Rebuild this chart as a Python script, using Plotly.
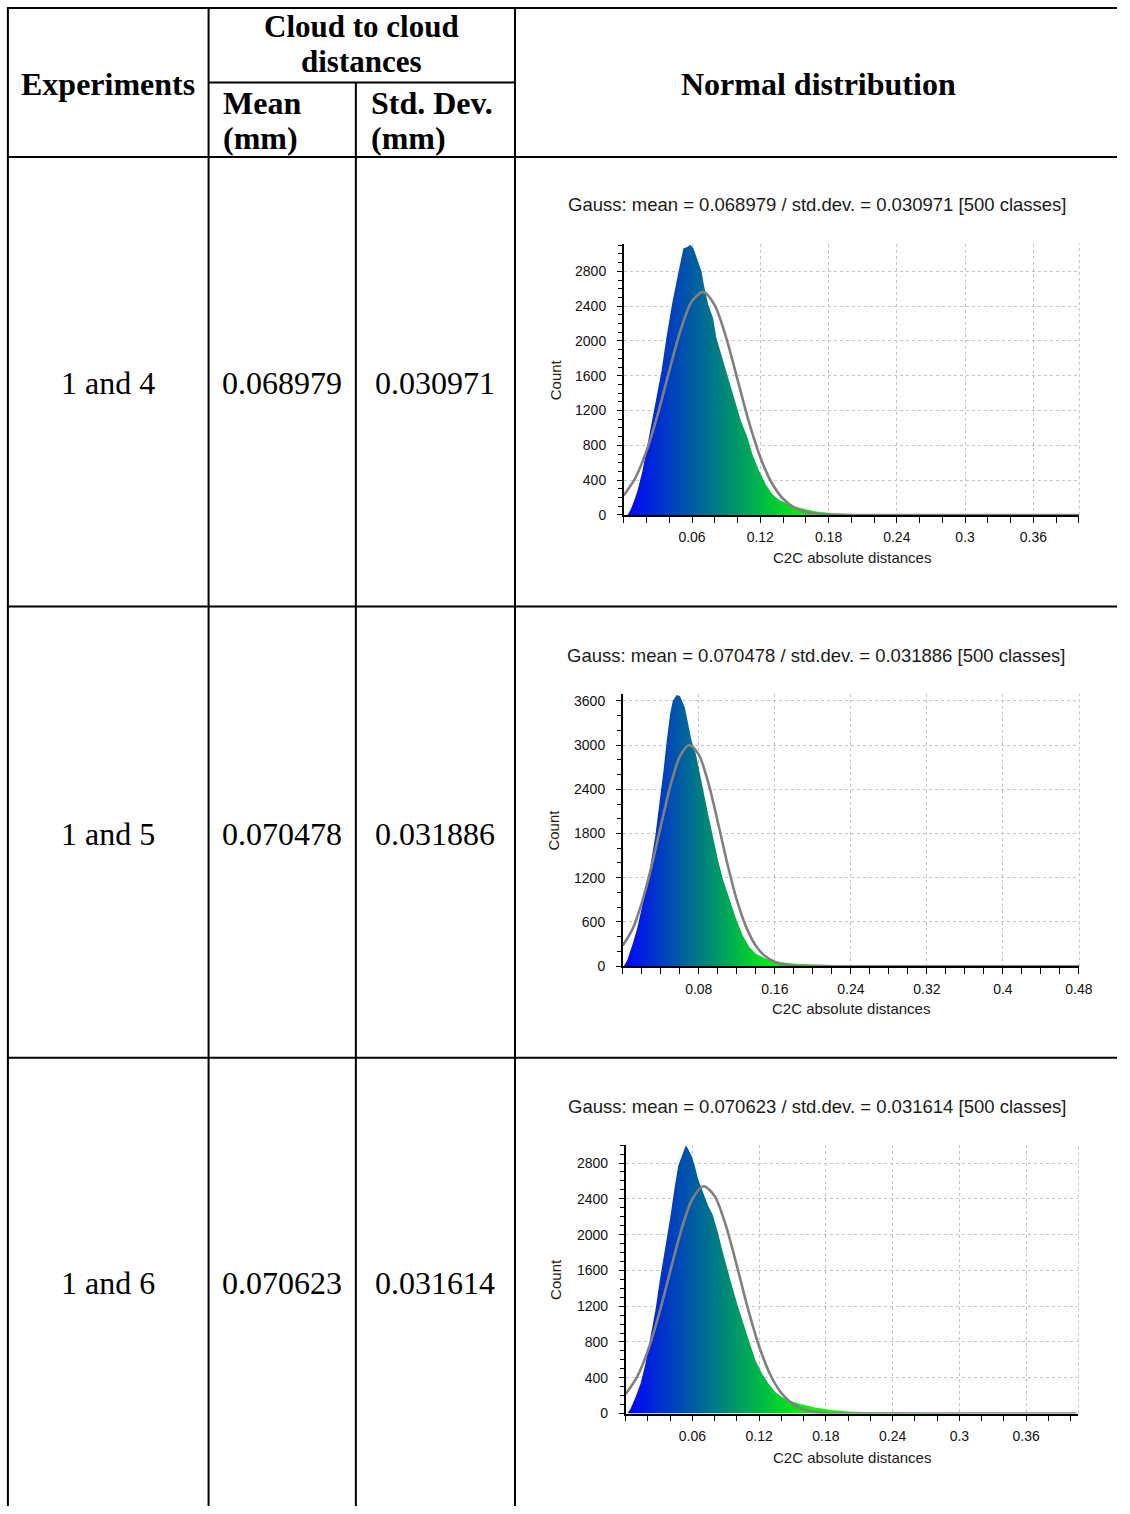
import plotly.graph_objects as go

# ---------------- data ----------------
experiments = ["1 and 4", "1 and 5", "1 and 6"]
means = ["0.068979", "0.070478", "0.070623"]
stds = ["0.030971", "0.031886", "0.031614"]
titles = [
    "Gauss: mean = 0.068979 / std.dev. = 0.030971 [500 classes]",
    "Gauss: mean = 0.070478 / std.dev. = 0.031886 [500 classes]",
    "Gauss: mean = 0.070623 / std.dev. = 0.031614 [500 classes]",
]

# histogram outlines (bin position, count)
hist1_x = [0.0035, 0.0063, 0.0092, 0.0121, 0.0165, 0.0222, 0.0280, 0.0332, 0.0375, 0.0424,
           0.0482, 0.0525, 0.0560, 0.0583, 0.0612, 0.0641, 0.0684, 0.0704, 0.0742, 0.0785,
           0.0814, 0.0857, 0.0900, 0.0944, 0.0987, 0.1030, 0.1088, 0.1131, 0.1189, 0.1247,
           0.1304, 0.1362, 0.1405, 0.1449, 0.155, 0.169, 0.184, 0.198, 0.227, 0.26, 0.30,
           0.35, 0.40]
hist1_count = [0, 68, 164, 278, 507, 889, 1271, 1654, 2036, 2418,
               2800, 3067, 3080, 3105, 3067, 2953, 2800, 2647, 2418, 2265,
               2036, 1845, 1654, 1463, 1271, 1080, 889, 698, 507, 354,
               240, 175, 150, 120, 80, 40, 20, 11, 6, 3, 2,
               1, 0]

hist2_x = [0.001, 0.0047, 0.0099, 0.0151, 0.0220, 0.0290, 0.0342, 0.0387, 0.0429, 0.0463,
           0.0498, 0.0526, 0.0567, 0.0602, 0.0654, 0.0689, 0.0724, 0.0769, 0.0810, 0.0852,
           0.0897, 0.0949, 0.1001, 0.1054, 0.1123, 0.1193, 0.1262, 0.1332, 0.1401, 0.1505,
           0.161, 0.175, 0.192, 0.203, 0.22, 0.25, 0.30, 0.35, 0.40, 0.48]
hist2_count = [0, 81, 282, 506, 909, 1357, 1760, 2208, 2656, 3059,
               3417, 3596, 3680, 3664, 3506, 3283, 3059, 2880, 2611, 2342,
               2073, 1760, 1446, 1178, 909, 640, 416, 260, 170, 103,
               67, 40, 27, 22, 14, 8, 4, 2, 1, 0]

hist3_x = [0.0015, 0.0044, 0.0089, 0.0133, 0.0177, 0.0222, 0.0266, 0.0310, 0.0355, 0.0399,
           0.0443, 0.0473, 0.0517, 0.0540, 0.0561, 0.0591, 0.0620, 0.0650, 0.0694, 0.0739,
           0.0783, 0.0827, 0.0871, 0.0916, 0.0960, 0.1004, 0.1049, 0.1108, 0.1167, 0.1226,
           0.1285, 0.1344, 0.1403, 0.1462, 0.1551, 0.1640, 0.1699, 0.185, 0.20, 0.22,
           0.25, 0.30, 0.35, 0.405]
hist3_count = [0, 55, 185, 333, 555, 850, 1146, 1516, 1848, 2181,
               2551, 2773, 2921, 2995, 2957, 2884, 2773, 2625, 2477, 2329,
               2218, 2033, 1811, 1590, 1405, 1220, 1035, 813, 592, 444,
               333, 240, 185, 148, 111, 81, 67, 40, 22, 12,
               6, 3, 1, 0]

# fitted gaussian curves
gauss1_x = [0.0, 0.01, 0.02, 0.03, 0.04, 0.05, 0.06, 0.07, 0.08, 0.09, 0.10, 0.11, 0.12,
            0.13, 0.14, 0.15, 0.16, 0.17, 0.18, 0.19, 0.20, 0.25, 0.30, 0.35, 0.40]
gauss1_count = [225, 419, 736, 1163, 1656, 2126, 2459, 2564, 2408, 2039, 1556, 1069, 663,
                370, 186, 84, 35, 13, 4, 1, 0, 0, 0, 0, 0]
gauss2_x = [0.0, 0.01, 0.02, 0.03, 0.04, 0.05, 0.06, 0.07, 0.08, 0.09, 0.10, 0.11, 0.12,
            0.13, 0.14, 0.15, 0.16, 0.17, 0.18, 0.19, 0.20, 0.25, 0.30, 0.40, 0.48]
gauss2_count = [280, 496, 857, 1340, 1900, 2440, 2842, 3000, 2870, 2489, 1956, 1394, 900,
                527, 279, 134, 58, 23, 8, 3, 1, 0, 0, 0, 0]
gauss3_x = [0.0, 0.01, 0.02, 0.03, 0.04, 0.05, 0.06, 0.07, 0.08, 0.09, 0.10, 0.11, 0.12,
            0.13, 0.14, 0.15, 0.16, 0.17, 0.18, 0.19, 0.20, 0.25, 0.30, 0.35, 0.405]
gauss3_count = [220, 404, 705, 1113, 1590, 2054, 2401, 2540, 2430, 2104, 1648, 1167, 749,
                434, 228, 108, 46, 18, 6, 2, 0, 0, 0, 0, 0]

xticks_a = [0.06, 0.12, 0.18, 0.24, 0.30, 0.36]
xticktext_a = ["0.06", "0.12", "0.18", "0.24", "0.3", "0.36"]
xticks_b = [0.08, 0.16, 0.24, 0.32, 0.40, 0.48]
xticktext_b = ["0.08", "0.16", "0.24", "0.32", "0.4", "0.48"]

# ---------------- layout helpers ----------------
W, H = 1130, 1514


def px(x):
    return x / W


def py(y):
    return 1 - y / H


SERIF = "Liberation Serif"
SANS = "Liberation Sans"

charts = [
    dict(hx=hist1_x, hy=hist1_count, gx=gauss1_x, gy=gauss1_count, xt=xticks_a, xtt=xticktext_a,
         box=(631, 1092, 244, 517), xr=0.4005, yr=3120, ydt=400, ymin=100),
    dict(hx=hist2_x, hy=hist2_count, gx=gauss2_x, gy=gauss2_count, xt=xticks_b, xtt=xticktext_b,
         box=(630, 1092, 697, 971), xr=0.4805, yr=3694, ydt=600, ymin=200),
    dict(hx=hist3_x, hy=hist3_count, gx=gauss3_x, gy=gauss3_count, xt=xticks_a, xtt=xticktext_a,
         box=(633, 1091, 1151, 1421), xr=0.407, yr=3000, ydt=400, ymin=100),
]
title_pos = [(827, 205), (826, 658), (826.5, 1112)]
xtitle_pos = [(861.5, 560), (861, 1014), (862, 1465)]
count_pos = [(562, 381), (559, 834), (562, 1286)]
row_y = [384, 838, 1290]

fig = go.Figure()
layout = dict(
    width=W, height=H, margin=dict(l=0, r=0, t=0, b=0),
    paper_bgcolor="white", plot_bgcolor="white", showlegend=False,
)
annotations = []
shapes = []

grad = [[0, "rgb(0,0,255)"], [1, "rgb(0,255,0)"]]

for i, c in enumerate(charts):
    s = "" if i == 0 else str(i + 1)
    xa, ya = "x" + s, "y" + s
    l, r, t, b = c["box"]
    fig.add_trace(go.Scatter(
        x=c["hx"], y=c["hy"], xaxis=xa, yaxis=ya, mode="lines",
        line=dict(width=0, color="rgba(0,0,0,0)"), fill="tozeroy",
        fillgradient=dict(type="horizontal", colorscale=grad, start=0, stop=0.165),
        hoverinfo="skip"))
    fig.add_trace(go.Scatter(
        x=c["gx"], y=c["gy"], xaxis=xa, yaxis=ya, mode="lines",
        line=dict(color="#808080", width=2.6, shape="spline", smoothing=0.8),
        hoverinfo="skip"))
    tickfont = dict(family=SANS, size=14, color="#111")
    layout["xaxis" + s] = dict(
        domain=[px(l), px(r)], range=[0, c["xr"]], anchor=ya,
        tickmode="array", tickvals=c["xt"], ticktext=c["xtt"],
        ticks="outside", ticklen=6, tickwidth=1, tickcolor="#000",
        showline=True, linecolor="#000", linewidth=1.5,
        showgrid=True, gridcolor="#c4c4c4", griddash="dot", gridwidth=1,
        zeroline=False, ticklabelstandoff=3,
        minor=dict(tick0=0, dtick=0.02, ticks="outside", ticklen=6, tickcolor="#000",
                   tickwidth=1, showgrid=False),
        tickfont=tickfont, fixedrange=True)
    layout["yaxis" + s] = dict(
        domain=[py(b), py(t)], range=[0, c["yr"]], anchor=xa,
        tickmode="linear", tick0=0, dtick=c["ydt"], tickformat="d",
        ticks="outside", ticklen=5, tickwidth=1, tickcolor="#000",
        showline=True, linecolor="#000", linewidth=1.5,
        showgrid=True, gridcolor="#c4c4c4", griddash="dot", gridwidth=1,
        zeroline=False, ticklabelstandoff=8,
        minor=dict(tick0=0, dtick=c["ymin"], ticks="outside", ticklen=4, tickcolor="#000",
                   tickwidth=1, showgrid=False),
        tickfont=tickfont, fixedrange=True)
    # right-edge dotted border
    shapes.append(dict(type="line", xref=xa + " domain", yref=ya + " domain",
                       x0=1, x1=1, y0=0, y1=1, layer="below",
                       line=dict(color="#c4c4c4", width=1, dash="dot")))
    annotations.append(dict(text=titles[i], x=px(title_pos[i][0]), y=py(title_pos[i][1]),
                            xref="paper", yref="paper", showarrow=False,
                            xanchor="center", yanchor="middle",
                            font=dict(family=SANS, size=18.5, color="#1a1a1a")))
    annotations.append(dict(text="C2C absolute distances", x=px(xtitle_pos[i][0]),
                            y=py(xtitle_pos[i][1]), xref="paper", yref="paper",
                            showarrow=False, xanchor="center", yanchor="middle",
                            font=dict(family=SANS, size=15, color="#1a1a1a")))
    annotations.append(dict(text="Count", x=px(count_pos[i][0]), y=py(count_pos[i][1]),
                            xref="paper", yref="paper", showarrow=False, textangle=-90,
                            xanchor="center", yanchor="middle",
                            font=dict(family=SANS, size=15, color="#2a1a10")))

# ---------------- table ----------------
def hline(y, x0, x1):
    shapes.append(dict(type="line", xref="paper", yref="paper", x0=px(x0), x1=px(x1),
                       y0=py(y), y1=py(y), line=dict(color="black", width=2)))


def vline(x, y0, y1):
    shapes.append(dict(type="line", xref="paper", yref="paper", x0=px(x), x1=px(x),
                       y0=py(y0), y1=py(y1), line=dict(color="black", width=2)))


hline(7, 7, 1130)
hline(82, 211, 521)
hline(157, 7, 1130)
hline(609, 7, 1130)
hline(1063, 7, 1130)
vline(8, 6, 1514)
vline(211, 6, 1514)
vline(360, 82, 1514)
vline(521, 6, 1514)


def text(t, x, y, size=32, bold=False, anchor="center"):
    annotations.append(dict(text=("<b>%s</b>" % t) if bold else t, x=px(x), y=py(y),
                            xref="paper", yref="paper", showarrow=False,
                            xanchor=anchor, yanchor="middle",
                            font=dict(family=SERIF, size=size, color="black")))


text("Experiments", 109.5, 83.8, bold=True)
text("Cloud to cloud", 366, 25.5, size=31, bold=True)
text("distances", 366, 60.5, size=31, bold=True)
text("Mean", 224, 102.5, bold=True, anchor="left")
text("(mm)", 224, 137.5, bold=True, anchor="left")
text("Std. Dev.", 373, 102.5, bold=True, anchor="left")
text("(mm)", 373, 137.5, bold=True, anchor="left")
text("Normal distribution", 828, 83.8, bold=True)

for i in range(3):
    text(experiments[i], 109.5, row_y[i])
    text(means[i], 285, row_y[i])
    text(stds[i], 440, row_y[i])

layout["annotations"] = annotations
layout["shapes"] = shapes
fig.update_layout(**layout)

fig.write_html("out.html", config={"displayModeBar": False},
               post_script="document.body.style.margin='0';document.body.style.overflow='hidden';")
